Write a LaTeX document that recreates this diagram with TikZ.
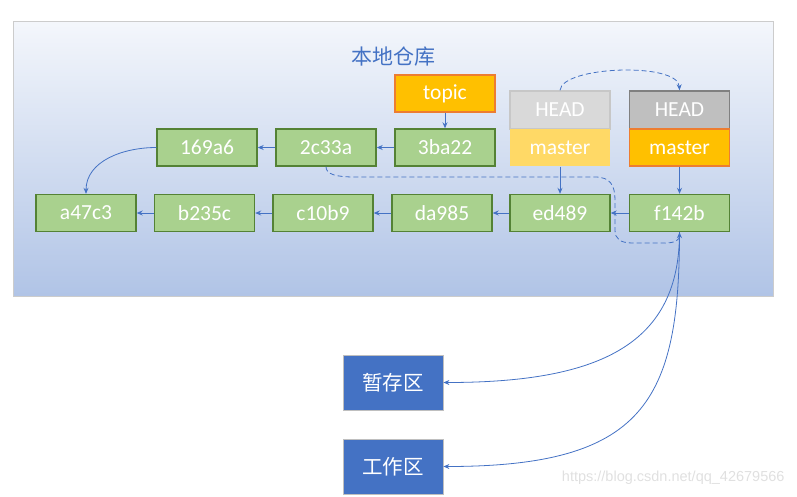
\documentclass[tikz,border=0pt]{standalone}
\usepackage{fontspec}
\setmainfont{Carlito}
\newfontfamily\cjk{Noto Sans CJK SC}
\newfontfamily\wmfont{Liberation Sans}
\usetikzlibrary{arrows.meta}

\definecolor{gitblue}{HTML}{4472C4}
\definecolor{commitfill}{HTML}{A9D18E}
\definecolor{commitline}{HTML}{548235}
\definecolor{branchfill}{HTML}{FFC000}
\definecolor{branchline}{HTML}{ED7D31}
\definecolor{oldbranch}{HTML}{FFD966}

\tikzset{
    commitbox/.style={draw=commitline, fill=commitfill, line width=1.4pt, text=white,
        minimum width=100pt, minimum height=37pt, inner sep=0pt,
        font=\fontsize{21.5}{25}\selectfont},
    branchbox/.style={commitbox, draw=branchline, fill=branchfill},
    areabox/.style={draw=black!25, fill=gitblue, line width=0.8pt, text=white,
        minimum width=100pt, minimum height=55pt, inner sep=0pt,
        font=\cjk\fontsize{20.5}{24}\selectfont},
    link/.style={gitblue, line width=0.8pt, -{Stealth[length=6pt,width=5pt]}},
    movelink/.style={link, dashed, dash pattern=on 5pt off 3pt}
}

\begin{document}
\begin{tikzpicture}[x=1pt, y=1pt]
    \useasboundingbox (0,0) rectangle (797,-496);

    % local repository background
    \shade[top color=gitblue!6!white, bottom color=gitblue!42!white, draw=black!20, line width=0.8pt]
        (13,-21) rectangle (773,-296);
    \node[text=gitblue, font=\cjk\fontsize{21}{24}\selectfont] (title) at (393,-57) {本地仓库};

    % commits, upper row
    \node[commitbox] (n169a6) at (207,-147.5) {169a6};
    \node[commitbox] (n2c33a) at (326,-147.5) {2c33a};
    \node[commitbox] (n3ba22) at (445,-147.5) {3ba22};

    % commits, lower row
    \node[commitbox] (na47c3) at (86,-213) {a47c3};
    \node[commitbox] (nb235c) at (204.5,-213) {b235c};
    \node[commitbox] (nc10b9) at (323,-213) {c10b9};
    \node[commitbox] (nda985) at (442,-213) {da985};
    \node[commitbox] (ned489) at (560,-213) {ed489};
    \node[commitbox] (nf142b) at (679.5,-213) {f142b};

    % branches and HEAD
    \node[branchbox] (topic) at (445,-93.5) {topic};
    \node[commitbox, draw=black!22, fill=black!15, minimum height=38pt] (oldhead) at (560,-110) {HEAD};
    \node[commitbox, draw=none, fill=oldbranch] (oldmaster) at (560,-147.5) {master};
    \node[commitbox, draw=black!50, fill=black!25, minimum height=38pt] (newhead) at (679.5,-110) {HEAD};
    \node[branchbox] (newmaster) at (679.5,-147.5) {master};

    % staging area and working tree
    \node[areabox] (stage) at (393,-382.5) {暂存区};
    \node[areabox] (work) at (393,-466.5) {工作区};

    % parent links
    \draw[link] (n3ba22.west) -- (n2c33a.east);
    \draw[link] (n2c33a.west) -- (n169a6.east);
    \draw[link] (n169a6.west) to[out=180, in=90] (na47c3.north);
    \draw[link] (nb235c.west) -- (na47c3.east);
    \draw[link] (nc10b9.west) -- (nb235c.east);
    \draw[link] (nda985.west) -- (nc10b9.east);
    \draw[link] (ned489.west) -- (nda985.east);
    \draw[link] (nf142b.west) -- (ned489.east);

    % branch pointers
    \draw[link] (topic.south) -- (n3ba22.north);
    \draw[link] (oldmaster.south) -- (ned489.north);
    \draw[link] (newmaster.south) -- (nf142b.north);

    % moves
    \draw[movelink] (oldhead.north) .. controls (562,-66) and (678,-62) .. (newhead.north);
    \draw[movelink] (n2c33a.south) .. controls (326,-174) and (335,-177) .. (355,-177)
        -- (595,-177) .. controls (610,-177) and (615,-185) .. (615,-200)
        -- (615,-230) .. controls (615,-239) and (620,-243) .. (633,-243)
        -- (665,-243) .. controls (675,-243) and (679.5,-240) .. (nf142b.south);

    % reset to staging area and working tree
    \draw[link] (nf142b.south) .. controls +(0,-110) and +(160,0) .. (stage.east);
    \draw[link] (nf142b.south) .. controls +(0,-170) and +(200,0) .. (work.east);

    \node[anchor=east, text=black!12, font=\wmfont\fontsize{14.5}{16}\selectfont] (mark) at (788,-478) {https://blog.csdn.net/qq\_42679566};
\end{tikzpicture}
\end{document}
